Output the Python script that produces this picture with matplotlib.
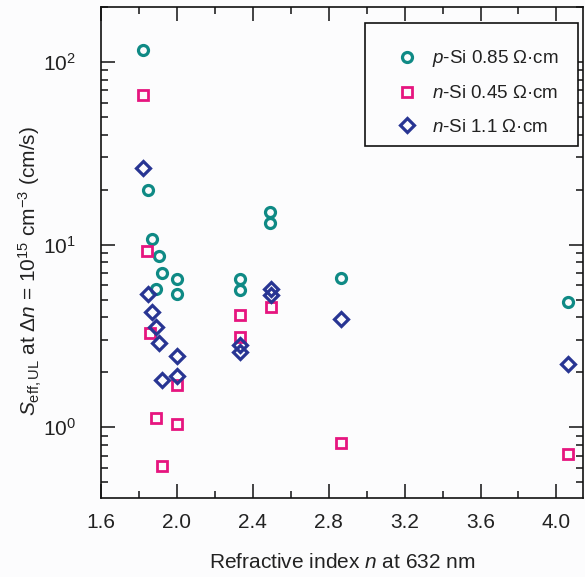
import matplotlib
matplotlib.use("Agg")
import matplotlib.pyplot as plt
from matplotlib.patches import Rectangle
from matplotlib.ticker import MultipleLocator, LogLocator, FormatStrFormatter, NullFormatter

plt.rcParams['font.family'] = ['Liberation Sans', 'DejaVu Sans']
plt.rcParams['mathtext.fontset'] = 'custom'
plt.rcParams['mathtext.rm'] = 'Liberation Sans'
plt.rcParams['mathtext.it'] = 'Liberation Sans:italic'
plt.rcParams['mathtext.bf'] = 'Liberation Sans:bold'

# ---- data ----
p_si_n = [1.823, 1.846, 1.867, 1.906, 1.924, 1.89, 2.0, 2.0, 2.33, 2.33, 2.492, 2.492, 2.865, 4.061]
p_si_s = [116, 19.9, 10.7, 8.65, 6.95, 5.68, 6.45, 5.35, 6.45, 5.63, 15.0, 13.1, 6.53, 4.86]

n045_n = [1.823, 1.841, 1.859, 1.888, 1.924, 2.0, 2.0, 2.33, 2.33, 2.495, 2.865, 4.061]
n045_s = [66, 9.25, 3.29, 1.13, 0.617, 1.70, 1.048, 4.11, 3.13, 4.53, 0.824, 0.717]

n11_n = [1.823, 1.846, 1.867, 1.888, 1.908, 1.924, 2.0, 2.0, 2.33, 2.33, 2.495, 2.495, 2.865, 4.061]
n11_s = [26.2, 5.35, 4.28, 3.55, 2.91, 1.81, 2.45, 1.90, 2.81, 2.59, 5.75, 5.33, 3.94, 2.23]

labels = [r'$\it{p}$-Si 0.85 Ω·cm', r'$\it{n}$-Si 0.45 Ω·cm', r'$\it{n}$-Si 1.1 Ω·cm']
colors = ['#0f8a85', '#e6157f', '#283593']

bg = '#fcfcfd'
fig = plt.figure(figsize=(5.85, 5.77), dpi=100, facecolor=bg)
ax = fig.add_axes([101/585, 79/577, 482/585, 491/577], facecolor=bg)

ax.plot(p_si_n, p_si_s, linestyle='none', marker='o', ms=7.2, mew=2.3,
        mfc='none', mec=colors[0], label=labels[0])
ax.plot(n045_n, n045_s, linestyle='none', marker='s', ms=6.6, mew=2.0,
        mfc='none', mec=colors[1], label=labels[1])
ax.plot(n11_n, n11_s, linestyle='none', marker='D', ms=7.4, mew=2.3,
        mfc='none', mec=colors[2], label=labels[2])

ax.set_yscale('log')
ax.set_xlim(1.6, 4.14)
ax.set_ylim(0.41, 200)

ax.xaxis.set_major_locator(MultipleLocator(0.4))
ax.xaxis.set_minor_locator(MultipleLocator(0.2))
ax.xaxis.set_major_formatter(FormatStrFormatter('%.1f'))
ax.yaxis.set_major_locator(LogLocator(base=10, numticks=10))
ax.yaxis.set_minor_locator(LogLocator(base=10, subs=range(2, 10), numticks=20))
ax.yaxis.set_minor_formatter(NullFormatter())

ax.tick_params(which='both', direction='in', top=True, right=True,
               width=1.1, colors='#111111', labelsize=15, labelcolor='#222222')
ax.tick_params(which='major', length=10)
ax.tick_params(which='minor', length=5)
ax.tick_params(axis='x', which='major', pad=11)
ax.tick_params(axis='y', which='major', pad=18)
for s in ax.spines.values():
    s.set_linewidth(1.2)
    s.set_color('#111111')

ax.set_xlabel(r'Refractive index $\it{n}$ at 632 nm', fontsize=15, color='#222222', labelpad=15)
ax.set_ylabel(r'$S_{\mathrm{eff,UL}}$ at $\Delta\it{n}$ = 10$^{15}$ cm$^{-3}$ (cm/s)',
              fontsize=15, color='#222222')
ax.yaxis.set_label_coords(-0.118, 0.462)

# legend frame drawn separately
ax.add_patch(Rectangle((0.548, 0.717), 0.442, 0.250, transform=ax.transAxes,
                       facecolor=bg, edgecolor='#111111', linewidth=1.2, zorder=5))
leg = ax.legend(loc='center left', bbox_to_anchor=(0.615, 0.827), borderaxespad=0,
                fontsize=13.5, frameon=False, handlelength=1.0, handletextpad=0.83,
                labelspacing=0.85, borderpad=0, numpoints=1, markerscale=1.0)
leg.set_zorder(6)
for t in leg.get_texts():
    t.set_color('#222222')

fig.savefig('out.png', dpi=100, facecolor=bg)
